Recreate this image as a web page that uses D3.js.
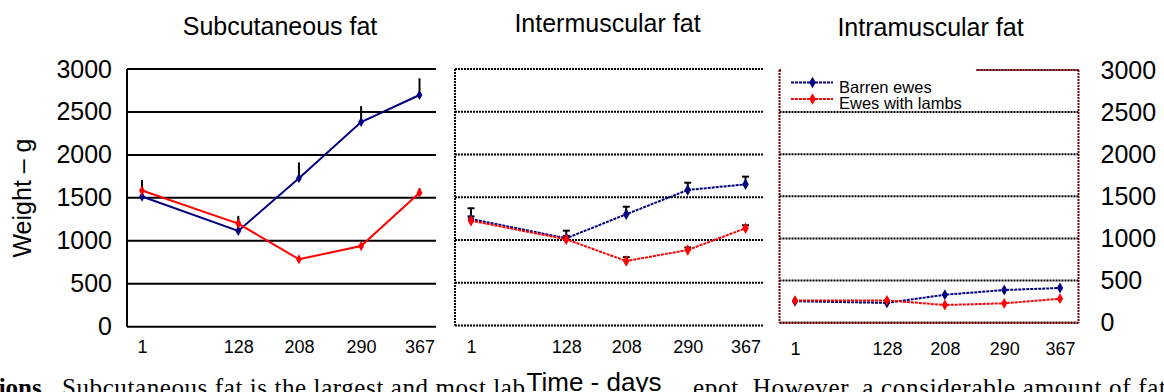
<!DOCTYPE html>
<html>
<head>
<meta charset="utf-8">
<script src="https://cdn.jsdelivr.net/npm/d3@7"></script>
<style>
  body { margin: 0; background: #fff; }
  svg { display: block; font-family: "Liberation Sans", Arial, sans-serif; }
</style>
</head>
<body>
<svg id="chart" width="1164" height="392"></svg>
<script>
var days = [1, 128, 208, 290, 367];
var yTicks = [0, 500, 1000, 1500, 2000, 2500, 3000];
var seriesNames = ['Barren ewes', 'Ewes with lambs'];
var titles = ['Subcutaneous fat', 'Intermuscular fat', 'Intramuscular fat'];

// weights in g, upper error bar in g
var subBarren = [1515, 1115, 1728, 2383, 2697];
var subBarrenErr = [60, 175, 185, 185, 195];
var subLambs = [1585, 1200, 785, 939, 1560];
var subLambsErr = [122, 60, 25, 25, 50];

var interBarren = [1246, 1020, 1301, 1585, 1651];
var interBarrenErr = [125, 89, 88, 85, 90];
var interLambs = [1226, 1008, 754, 883, 1137];
var interLambsErr = [50, 40, 45, 30, 35];

var intraBarren = [255, 235, 332, 388, 412];
var intraBarrenErr = [20, 20, 20, 20, 20];
var intraLambs = [262, 265, 210, 230, 285];
var intraLambsErr = [20, 20, 20, 20, 20];

var blue = '#000080';
var red = '#ff0000';

var svg = d3.select('#chart');

var panels = [
  {title: titles[0], barren: subBarren, barrenErr: subBarrenErr, lambs: subLambs, lambsErr: subLambsErr,
   left: 127, right: 436, x0: 142, x1: 419.5, top: 69, bottom: 326.7, titleX: 280, titleY: 35,
   gridColor: '#000', gridDash: null, lineDash: null, caps: false, tickPad: 13.3, markerSize: 30},
  {title: titles[1], barren: interBarren, barrenErr: interBarrenErr, lambs: interLambs, lambsErr: interLambsErr,
   left: 455, right: 764, x0: 471, x1: 745.5, top: 69, bottom: 325.5, titleX: 607.5, titleY: 32,
   gridColor: '#000', gridDash: '2,1', lineDash: '3,1', caps: true, tickPad: 14.4, markerSize: 38},
  {title: titles[2], barren: intraBarren, barrenErr: intraBarrenErr, lambs: intraLambs, lambsErr: intraLambsErr,
   left: 779.5, right: 1078.5, x0: 795, x1: 1060, top: 70, bottom: 322.7, titleX: 930.5, titleY: 36,
   gridColor: '#000', gridDash: '2,1', lineDash: '3,1', caps: false, tickPad: 19.5, markerSize: 34}
];

panels.forEach(function(p, idx) {
  var x = d3.scaleLinear().domain([days[0], days[days.length - 1]]).range([p.x0, p.x1]);
  var y = d3.scaleLinear().domain([0, 3000]).range([p.bottom, p.top]);
  var g = svg.append('g');

  g.append('text')
    .attr('x', p.titleX).attr('y', p.titleY)
    .attr('text-anchor', 'middle')
    .attr('font-size', 25)
    .text(p.title);

  // gridlines
  g.selectAll('.grid')
    .data(yTicks)
    .enter()
    .append('line')
    .attr('x1', p.left).attr('x2', p.right)
    .attr('y1', d => y(d)).attr('y2', d => y(d))
    .attr('stroke', p.gridColor)
    .attr('stroke-width', 2)
    .attr('stroke-dasharray', p.gridDash);

  // frame
  if (idx < 2) {
    g.append('line')
      .attr('x1', p.left).attr('x2', p.left)
      .attr('y1', p.top).attr('y2', p.bottom)
      .attr('stroke', '#000').attr('stroke-width', 2)
      .attr('stroke-dasharray', p.gridDash);
  } else {
    var frameColor = '#7a0000';
    [[p.left, p.top, p.left, p.bottom], [p.right, p.top, p.right, p.bottom],
     [p.left, p.bottom, p.right, p.bottom], [p.left, p.top, p.right, p.top]].forEach(function(s) {
      g.append('line')
        .attr('x1', s[0]).attr('y1', s[1]).attr('x2', s[2]).attr('y2', s[3])
        .attr('stroke', frameColor).attr('stroke-width', 2)
        .attr('stroke-dasharray', '2,1');
    });
  }

  // x axis labels
  var xa = g.append('g')
    .attr('transform', 'translate(0,' + p.bottom + ')')
    .call(d3.axisBottom(x).tickValues(days).tickFormat(d3.format('d')).tickSize(0).tickPadding(p.tickPad));
  xa.select('.domain').remove();
  xa.selectAll('text').attr('font-size', 18).attr('font-family', null).attr('fill', '#000');

  // error bars
  [[p.barren, p.barrenErr], [p.lambs, p.lambsErr]].forEach(function(s) {
    var eg = g.append('g');
    s[0].forEach(function(v, i) {
      eg.append('line')
        .attr('x1', x(days[i])).attr('x2', x(days[i]))
        .attr('y1', y(v)).attr('y2', y(v + s[1][i]))
        .attr('stroke', '#000').attr('stroke-width', 2);
      if (p.caps) {
        eg.append('line')
          .attr('x1', x(days[i]) - 3.5).attr('x2', x(days[i]) + 3.5)
          .attr('y1', y(v + s[1][i])).attr('y2', y(v + s[1][i]))
          .attr('stroke', '#000').attr('stroke-width', 2);
      }
    });
  });

  // lines and markers
  var line = d3.line().x((d, i) => x(days[i])).y(d => y(d));
  [[p.barren, blue], [p.lambs, red]].forEach(function(s) {
    g.append('path')
      .attr('d', line(s[0]))
      .attr('fill', 'none')
      .attr('stroke', s[1])
      .attr('stroke-width', 2)
      .attr('stroke-dasharray', p.lineDash);
  });
  [[p.barren, blue], [p.lambs, red]].forEach(function(s) {
    g.selectAll(null)
      .data(s[0])
      .enter()
      .append('path')
      .attr('d', d3.symbol(d3.symbolDiamond).size(p.markerSize))
      .attr('transform', (d, i) => 'translate(' + x(days[i]) + ',' + y(d) + ')')
      .attr('fill', s[1]);
  });

  // y axis labels
  if (idx === 0) {
    var ya = g.append('g')
      .attr('transform', 'translate(' + p.left + ',0)')
      .call(d3.axisLeft(y).tickValues(yTicks).tickFormat(d3.format('d')).tickSize(0).tickPadding(15));
    ya.select('.domain').remove();
    ya.selectAll('text').attr('font-size', 25).attr('font-family', null).attr('fill', '#000');
  }
  if (idx === 2) {
    var yr = g.append('g')
      .attr('transform', 'translate(' + p.right + ',0)')
      .call(d3.axisRight(y).tickValues(yTicks).tickFormat(d3.format('d')).tickSize(0).tickPadding(22));
    yr.select('.domain').remove();
    yr.selectAll('text').attr('font-size', 25).attr('font-family', null).attr('fill', '#000');

    // legend
    svg.append('rect')
      .attr('x', p.left + 1.5).attr('y', 64)
      .attr('width', 976 - p.left - 1.5).attr('height', 46)
      .attr('fill', '#fff');
    [[blue, 82.5, 92.5], [red, 99, 108.7]].forEach(function(s, i) {
      svg.append('line')
        .attr('x1', 791).attr('x2', 833).attr('y1', s[1]).attr('y2', s[1])
        .attr('stroke', s[0]).attr('stroke-width', 2).attr('stroke-dasharray', '3,1');
      svg.append('path')
        .attr('d', d3.symbol(d3.symbolDiamond).size(38))
        .attr('transform', 'translate(812.5,' + s[1] + ')')
        .attr('fill', s[0]);
      svg.append('text')
        .attr('x', 839).attr('y', s[2])
        .attr('font-size', 16.5)
        .text(seriesNames[i]);
    });
  }
});

svg.append('text')
  .attr('transform', 'translate(31,198) rotate(-90)')
  .attr('text-anchor', 'middle')
  .attr('font-size', 25)
  .text('Weight \u2013 g');

// page text bleeding in under the chart
var body = svg.append('g').attr('font-family', '"Liberation Serif", "Times New Roman", serif').attr('font-size', 25);
body.append('text').attr('x', 48).attr('y', 396).attr('text-anchor', 'end').attr('font-weight', 'bold').text('ions.');
body.append('text').attr('x', 62).attr('y', 396).attr('textLength', 463).attr('lengthAdjust', 'spacing')
  .text('Subcutaneous fat is the largest and most lab');
body.append('text').attr('x', 693).attr('y', 396).attr('textLength', 473).attr('lengthAdjust', 'spacing')
  .text('epot. However, a considerable amount of fat');

svg.append('text')
  .attr('x', 594).attr('y', 391)
  .attr('text-anchor', 'middle')
  .attr('font-size', 26)
  .text('Time - days');
</script>
</body>
</html>
